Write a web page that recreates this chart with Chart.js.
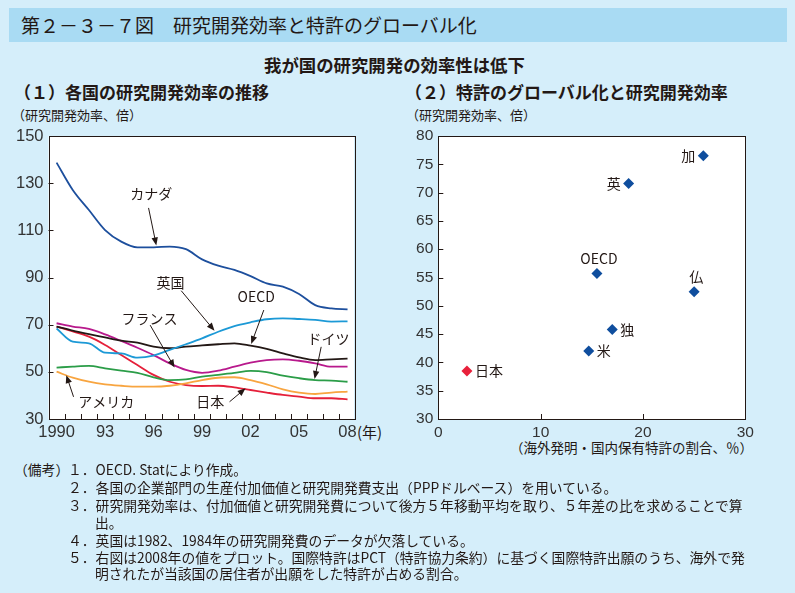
<!DOCTYPE html>
<html>
<head>
<meta charset="utf-8">
<script src="https://cdn.jsdelivr.net/npm/chart.js@4.4.1/dist/chart.umd.min.js"></script>
<style>
body { margin:0; width:795px; height:593px; background:#d5eefa; position:relative; overflow:hidden;
       font-family:"Noto Sans CJK JP", sans-serif; color:#231815; }
.t { position:absolute; white-space:nowrap; line-height:1; }
#band { position:absolute; left:9px; top:8px; width:778px; height:34px; background:#a9dbf3; }
canvas { position:absolute; }
.note { position:absolute; white-space:nowrap; line-height:1; font-size:13.8px; }
</style>
</head>
<body>
<div id="band"></div>
<div class="t" style="left:21px;top:15px;font-size:19px;">第２－３－７図　研究開発効率と特許のグローバル化</div>
<div class="t" style="left:264px;top:56px;font-size:17.4px;font-weight:bold;">我が国の研究開発の効率性は低下</div>
<div class="t" style="left:14px;top:83px;font-size:17px;font-weight:bold;">（１）各国の研究開発効率の推移</div>
<div class="t" style="left:405px;top:83px;font-size:17px;font-weight:bold;">（２）特許のグローバル化と研究開発効率</div>
<div class="t" style="left:12px;top:108px;font-size:13px;">（研究開発効率、倍）</div>
<div class="t" style="left:406px;top:108px;font-size:13px;">（研究開発効率、倍）</div>
<div class="t" style="left:357px;top:424px;font-size:15px;">(年)</div>
<div class="t" style="right:42px;top:441px;font-size:13.5px;">（海外発明・国内保有特許の割合、％）</div>

<canvas id="trend" width="390" height="330" style="left:0;top:120px;"></canvas>
<canvas id="patent" width="400" height="340" style="left:395px;top:120px;"></canvas>

<div class="note" style="left:14px;top:463px;">（備考）</div>
<div class="note" style="left:68px;top:463px;">１．OECD. Statにより作成。</div>
<div class="note" style="left:68px;top:481px;">２．各国の企業部門の生産付加価値と研究開発費支出（PPPドルベース）を用いている。</div>
<div class="note" style="left:68px;top:499px;">３．研究開発効率は、付加価値と研究開発費について後方５年移動平均を取り、５年差の比を求めることで算</div>
<div class="note" style="left:95px;top:516px;">出。</div>
<div class="note" style="left:68px;top:534px;">４．英国は1982、1984年の研究開発費のデータが欠落している。</div>
<div class="note" style="left:68px;top:551px;">５．右図は2008年の値をプロット。国際特許はPCT（特許協力条約）に基づく国際特許出願のうち、海外で発</div>
<div class="note" style="left:95px;top:567px;">明されたが当該国の居住者が出願をした特許が占める割合。</div>

<script>
// (1) research efficiency by country, 1990-2008
var years = [1990, 1991, 1992, 1993, 1994, 1995, 1996, 1997, 1998, 1999, 2000, 2001, 2002, 2003, 2004, 2005, 2006, 2007, 2008];
var canada  = [138.7, 127.1, 118.6, 110.1, 105.2, 102.8, 102.8, 103.1, 102.0, 97.7, 95.0, 93.2, 90.6, 87.5, 86.1, 83.0, 78.3, 76.9, 76.5];
var uk      = [68.4, 62.8, 62.1, 58.1, 57.8, 56.0, 56.9, 59.3, 61.7, 64.2, 67.0, 69.4, 71.0, 72.3, 72.7, 72.4, 72.0, 71.3, 71.4];
var oecd    = [69.2, 67.5, 66.0, 64.6, 63.2, 62.4, 60.7, 60.0, 60.7, 61.2, 61.7, 62.1, 61.1, 59.7, 57.8, 56.1, 55.0, 55.3, 55.6];
var france  = [70.6, 69.2, 68.2, 65.9, 63.1, 60.2, 57.1, 53.6, 50.8, 49.6, 50.5, 52.2, 53.9, 55.0, 55.3, 54.7, 53.6, 52.2, 52.2];
var germany = [51.8, 52.2, 52.5, 51.5, 50.5, 49.6, 47.7, 46.5, 46.8, 48.0, 48.7, 49.6, 50.4, 49.9, 48.4, 47.3, 46.5, 46.3, 45.8];
var usa     = [50.1, 47.5, 45.8, 44.7, 44.1, 43.7, 43.7, 44.1, 45.1, 46.5, 47.5, 47.7, 46.5, 44.7, 42.6, 41.2, 40.6, 41.2, 41.6];
var japan   = [69.2, 67.1, 64.9, 61.4, 57.1, 52.9, 48.7, 45.8, 44.4, 44.0, 44.1, 43.4, 42.3, 41.2, 40.2, 39.5, 38.8, 38.8, 38.3];
var yearTicks = [1990, 1993, 1996, 1999, 2002, 2005, 2008];
var yearTickLabels = ['1990', '93', '96', '99', '02', '05', '08'];

// (2) 2008: share of patents invented abroad vs efficiency
var scatterNames = ['加', '英', 'OECD', '仏', '独', '米', '日本'];
var abroadShare  = [25.9, 18.6, 15.5, 25.0, 17.0, 14.7, 2.8];
var efficiency08 = [76.5, 71.6, 55.7, 52.5, 45.8, 42.0, 38.5];

var INK = '#231815';
var numFontL = { family: '"Liberation Sans", Arial, sans-serif', size: 16.5 };
var numFontR = { family: '"Liberation Sans", Arial, sans-serif', size: 15.5 };

function toPoints(vals) {
    return years.map(function (y, i) { return { x: y, y: vals[i] }; });
}

function arrow(ctx, x1, y1, x2, y2) {
    var a = Math.atan2(y2 - y1, x2 - x1);
    ctx.beginPath();
    ctx.moveTo(x1, y1);
    ctx.lineTo(x2 - 5 * Math.cos(a), y2 - 5 * Math.sin(a));
    ctx.stroke();
    ctx.beginPath();
    ctx.moveTo(x2, y2);
    ctx.lineTo(x2 - 8 * Math.cos(a) + 3.2 * Math.sin(a), y2 - 8 * Math.sin(a) - 3.2 * Math.cos(a));
    ctx.lineTo(x2 - 8 * Math.cos(a) - 3.2 * Math.sin(a), y2 - 8 * Math.sin(a) + 3.2 * Math.cos(a));
    ctx.closePath();
    ctx.fill();
}

// white plot area, frame and inward tick marks
var frame = {
    id: 'frame',
    beforeDraw: function (chart) {
        var a = chart.chartArea, ctx = chart.ctx;
        ctx.save();
        ctx.fillStyle = '#ffffff';
        ctx.fillRect(a.left, a.top, a.right - a.left, a.bottom - a.top);
        ctx.restore();
    },
    afterDatasetsDraw: function (chart, args, opts) {
        var a = chart.chartArea, ctx = chart.ctx;
        var xs = chart.scales.x, ys = chart.scales.y;
        ctx.save();
        ctx.strokeStyle = INK;
        ctx.lineWidth = 1;
        ctx.strokeRect(Math.round(a.left) + 0.5, Math.round(a.top) + 0.5,
                       Math.round(a.right - a.left), Math.round(a.bottom - a.top));
        ctx.beginPath();
        opts.xMarks.forEach(function (v) {
            var px = Math.round(xs.getPixelForValue(v)) + 0.5;
            ctx.moveTo(px, a.bottom);
            ctx.lineTo(px, a.bottom - 5);
        });
        opts.yMarks.forEach(function (v) {
            var py = Math.round(ys.getPixelForValue(v)) + 0.5;
            ctx.moveTo(a.left, py);
            ctx.lineTo(a.left + 5, py);
        });
        ctx.stroke();
        ctx.restore();
    }
};

// country names with arrows in the trend chart
var trendNotes = [
    { text: 'カナダ',   at: [1995.86, 125.4], from: [1995.69, 119.5], to: [1996.17, 103.6] },
    { text: '英国',     at: [1997.05, 88.0],  from: [1997.71, 84.4],  to: [1999.77, 67.4] },
    { text: 'OECD',     at: [2002.35, 81.9],  from: [2002.82, 76.2],  to: [2002.04, 61.8] },
    { text: 'フランス', at: [1995.75, 72.4],  from: [1995.79, 69.8],  to: [1997.3, 51.8] },
    { text: 'ドイツ',   at: [2006.82, 64.2],  from: [2006.37, 60.6],  to: [2005.96, 47.0] },
    { text: 'アメリカ', at: [1993.07, 37.3],  from: [1991.05, 39.4],  to: [1990.6, 48.6] },
    { text: '日本',     at: [1999.5, 37.3],   from: [2000.7, 37.3],   to: [2001.69, 43.0] }
];

var trendLabels = {
    id: 'trendLabels',
    afterDatasetsDraw: function (chart) {
        var ctx = chart.ctx, xs = chart.scales.x, ys = chart.scales.y;
        ctx.save();
        ctx.fillStyle = INK;
        ctx.strokeStyle = INK;
        ctx.lineWidth = 1;
        ctx.textAlign = 'center';
        ctx.textBaseline = 'middle';
        ctx.font = '14px "Noto Sans CJK JP", sans-serif';
        trendNotes.forEach(function (n) {
            ctx.fillText(n.text, xs.getPixelForValue(n.at[0]), ys.getPixelForValue(n.at[1]));
            arrow(ctx, xs.getPixelForValue(n.from[0]), ys.getPixelForValue(n.from[1]),
                       xs.getPixelForValue(n.to[0]), ys.getPixelForValue(n.to[1]));
        });
        ctx.restore();
    }
};

// names next to the scatter points: where the text sits relative to the marker
var scatterPlace = ['left', 'left', 'above', 'above', 'right', 'right', 'right'];

var scatterLabels = {
    id: 'scatterLabels',
    afterDatasetsDraw: function (chart) {
        var ctx = chart.ctx, meta = chart.getDatasetMeta(0);
        ctx.save();
        ctx.fillStyle = INK;
        ctx.font = '14px "Noto Sans CJK JP", sans-serif';
        ctx.textBaseline = 'middle';
        meta.data.forEach(function (pt, i) {
            var p = scatterPlace[i], name = scatterNames[i];
            if (p === 'left') {
                ctx.textAlign = 'right';
                ctx.fillText(name, pt.x - 8, pt.y);
            } else if (p === 'right') {
                ctx.textAlign = 'left';
                ctx.fillText(name, pt.x + 8, pt.y);
            } else {
                ctx.textAlign = 'center';
                ctx.fillText(name, pt.x + 2, pt.y - 14.5);
            }
        });
        ctx.restore();
    }
};

function lineSet(vals, color) {
    return {
        data: toPoints(vals),
        borderColor: color,
        borderWidth: 1.8,
        pointRadius: 0,
        fill: false,
        cubicInterpolationMode: 'monotone'
    };
}

new Chart(document.getElementById('trend'), {
    type: 'line',
    data: {
        datasets: [
            lineSet(canada, '#1d4f9d'),
            lineSet(uk, '#1c99d6'),
            lineSet(oecd, '#231815'),
            lineSet(france, '#b8198c'),
            lineSet(germany, '#2b9d48'),
            lineSet(usa, '#f8a540'),
            lineSet(japan, '#e5203a')
        ]
    },
    options: {
        responsive: false,
        animation: false,
        layout: { padding: { top: 16, right: 36, left: 0, bottom: 0 } },
        plugins: {
            legend: { display: false },
            tooltip: { enabled: false },
            frame: {
                xMarks: [1990.5, 1991.5, 1992.5, 1993.5, 1994.5, 1995.5, 1996.5, 1997.5, 1998.5,
                         1999.5, 2000.5, 2001.5, 2002.5, 2003.5, 2004.5, 2005.5, 2006.5, 2007.5],
                yMarks: [50, 70, 90, 110, 130]
            }
        },
        scales: {
            x: {
                type: 'linear',
                min: 1989.5,
                max: 2008.4,
                afterBuildTicks: function (s) {
                    s.ticks = yearTicks.map(function (v) { return { value: v }; });
                },
                afterFit: function (s) { s.height = 31; },
                grid: { display: false, drawTicks: false },
                border: { display: false },
                ticks: {
                    autoSkip: false,
                    maxRotation: 0,
                    padding: 4,
                    color: '#333333',
                    font: numFontL,
                    callback: function (v) { return yearTickLabels[yearTicks.indexOf(v)]; }
                }
            },
            y: {
                min: 30,
                max: 150,
                afterFit: function (s) { s.width = 48.5; },
                grid: { display: false, drawTicks: false },
                border: { display: false },
                ticks: { stepSize: 20, padding: 5, color: '#333333', font: numFontL }
            }
        }
    },
    plugins: [frame, trendLabels]
});

new Chart(document.getElementById('patent'), {
    type: 'scatter',
    data: {
        datasets: [{
            data: abroadShare.map(function (v, i) { return { x: v, y: efficiency08[i] }; }),
            pointStyle: 'rectRot',
            pointRadius: 5.5,
            pointBorderWidth: 0,
            pointBackgroundColor: scatterNames.map(function (n) { return n === '日本' ? '#e8213b' : '#0f4e9e'; })
        }]
    },
    options: {
        responsive: false,
        animation: false,
        layout: { padding: { top: 16, right: 49.7, left: 0, bottom: 0 } },
        plugins: {
            legend: { display: false },
            tooltip: { enabled: false },
            frame: { xMarks: [10, 20], yMarks: [35, 40, 45, 50, 55, 60, 65, 70, 75] }
        },
        scales: {
            x: {
                min: 0,
                max: 30,
                afterFit: function (s) { s.height = 41; },
                grid: { display: false, drawTicks: false },
                border: { display: false },
                ticks: { stepSize: 10, padding: 4, maxRotation: 0, color: '#333333', font: numFontR }
            },
            y: {
                min: 30,
                max: 80,
                afterFit: function (s) { s.width = 43.3; },
                grid: { display: false, drawTicks: false },
                border: { display: false },
                ticks: { stepSize: 5, padding: 5, color: '#333333', font: numFontR }
            }
        }
    },
    plugins: [frame, scatterLabels]
});
</script>
</body>
</html>
